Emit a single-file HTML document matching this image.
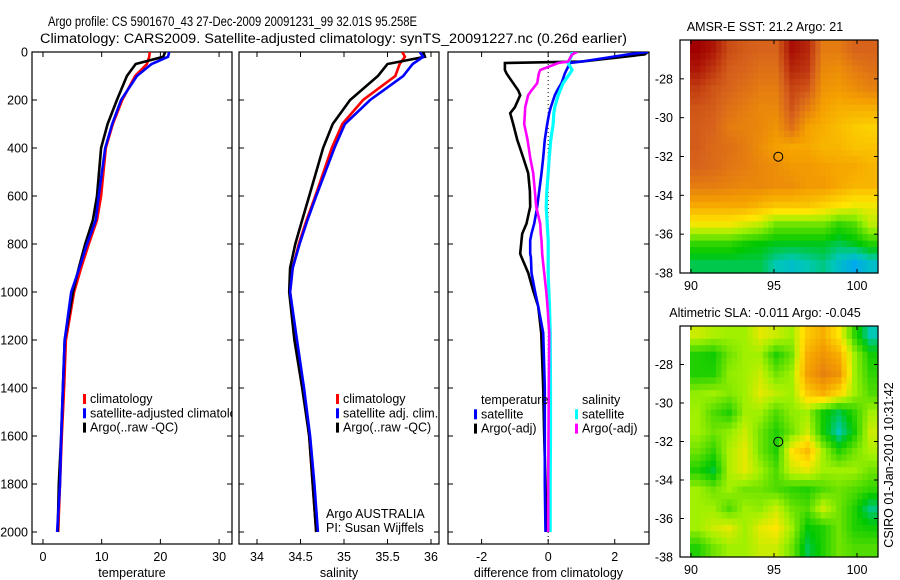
<!DOCTYPE html>
<html><head><meta charset="utf-8"><style>
html,body{margin:0;padding:0;background:#fff}
svg{display:block;font-family:"Liberation Sans",sans-serif}
text{font-size:12.5px;fill:#000}
</style></head><body>
<svg id="fig" width="900" height="580" viewBox="0 0 900 580" xmlns="http://www.w3.org/2000/svg">
<rect width="900" height="580" fill="#fff"/>
<text x="48" y="26" textLength="369" lengthAdjust="spacingAndGlyphs" style="font-size:13.5px">Argo profile: CS 5901670_43 27-Dec-2009 20091231_99 32.01S 95.258E</text>
<text x="40" y="43" textLength="587" lengthAdjust="spacingAndGlyphs" style="font-size:13.5px">Climatology: CARS2009. Satellite-adjusted climatology: synTS_20091227.nc (0.26d earlier)</text>
<g id="layer"></g>
</svg>
<script>
// ---------- data ----------
const depths = [0,20,50,100,200,300,400,600,700,800,900,1000,1200,1400,1600,1800,2000];
const tempClim = [18.2,18.1,17.7,15.7,13.5,11.9,10.7,9.9,9.2,7.8,6.5,5.3,3.9,3.6,3.2,2.9,2.6];
const tempSat  = [21.5,21.3,18.5,16.0,13.3,11.8,10.6,9.5,9.0,7.5,6.2,4.8,3.7,3.4,3.1,2.9,2.4];
const tempArgo = [20.8,20.5,15.8,14.3,12.6,11.0,9.9,9.2,8.5,7.2,6.1,5.1,3.7,3.4,3.1,2.7,2.5];
const salClim = [35.67,35.70,35.64,35.59,35.22,34.98,34.86,34.67,34.57,34.48,34.41,34.38,34.44,34.53,34.60,34.64,34.68];
const salSat  = [35.87,35.91,35.79,35.68,35.30,35.01,34.89,34.68,34.58,34.49,34.41,34.38,34.46,34.54,34.61,34.66,34.70];
const salArgo = [35.91,35.93,35.50,35.39,35.07,34.87,34.76,34.60,34.52,34.44,34.38,34.37,34.43,34.52,34.60,34.64,34.68];
const diffDepths = [0,10,40,46,75,90,130,160,180,230,255,300,365,440,505,580,645,715,757,785,840,855,920,995,1060,1170,1400,1600,1800,2000];
const dTempArgo = [3.0,2.9,1.0,-1.3,-1.3,-1.25,-1.05,-0.9,-0.84,-1.0,-1.14,-1.05,-0.93,-0.75,-0.6,-0.55,-0.54,-0.65,-0.78,-0.8,-0.84,-0.8,-0.6,-0.45,-0.3,-0.21,-0.15,-0.12,-0.08,-0.05];
const dTempSat = [3.0,2.4,1.0,0.66,0.55,0.5,0.4,0.27,0.2,0.08,0.03,-0.03,-0.1,-0.15,-0.2,-0.27,-0.33,-0.42,-0.5,-0.54,-0.54,-0.52,-0.5,-0.4,-0.3,-0.15,-0.1,-0.1,-0.1,-0.08];
const dSalArgo = [0.87,0.72,0.6,0.3,-0.24,-0.28,-0.33,-0.5,-0.6,-0.69,-0.7,-0.72,-0.62,-0.54,-0.45,-0.4,-0.36,-0.24,-0.22,-0.2,-0.18,-0.17,-0.12,-0.06,-0.02,0.03,0.02,0.01,0.0,0.0];
const dSalSat = [0.7,0.72,0.62,0.6,0.72,0.65,0.45,0.36,0.3,0.2,0.17,0.15,0.08,0.03,0.0,-0.04,-0.06,-0.03,-0.01,0.0,0.0,0.0,0.0,0.02,0.04,0.06,0.07,0.07,0.06,0.06];
const tempTicks = [0,10,20,30];
const salTicks = [34,34.5,35,35.5,36];
const diffTicks = [-2,0,2];
const depthTicks = [0,200,400,600,800,1000,1200,1400,1600,1800,2000];
const latTicks = [-28,-30,-32,-34,-36,-38];
const lonTicks = [90,95,100];
const sstGrid = [
[0.95,0.92,0.85,0.83,0.82,0.82,0.93,0.90,0.78,0.78,0.82,0.82],
[0.92,0.88,0.83,0.82,0.80,0.80,0.90,0.88,0.76,0.75,0.78,0.80],
[0.87,0.84,0.82,0.80,0.78,0.78,0.86,0.84,0.74,0.73,0.75,0.77],
[0.84,0.83,0.80,0.78,0.76,0.76,0.84,0.78,0.72,0.70,0.70,0.70],
[0.83,0.82,0.78,0.77,0.76,0.74,0.80,0.72,0.70,0.68,0.66,0.65],
[0.83,0.81,0.80,0.78,0.75,0.72,0.71,0.71,0.69,0.69,0.67,0.67],
[0.82,0.81,0.79,0.78,0.76,0.75,0.73,0.73,0.72,0.71,0.71,0.69],
[0.78,0.78,0.77,0.76,0.76,0.75,0.75,0.73,0.73,0.71,0.69,0.69],
[0.71,0.71,0.71,0.71,0.69,0.67,0.67,0.67,0.65,0.63,0.61,0.61],
[0.61,0.61,0.61,0.59,0.57,0.52,0.52,0.52,0.52,0.48,0.50,0.57],
[0.48,0.48,0.48,0.46,0.45,0.44,0.44,0.44,0.44,0.42,0.44,0.47],
[0.42,0.42,0.42,0.42,0.42,0.38,0.36,0.38,0.40,0.36,0.32,0.36]];
const slaGrid = [
[0.58,0.56,0.55,0.55,0.60,0.58,0.55,0.66,0.70,0.62,0.48,0.38],
[0.47,0.46,0.52,0.55,0.55,0.47,0.52,0.70,0.74,0.70,0.55,0.46],
[0.47,0.47,0.54,0.55,0.58,0.52,0.55,0.72,0.77,0.74,0.55,0.48],
[0.54,0.55,0.53,0.55,0.60,0.57,0.55,0.66,0.70,0.64,0.55,0.50],
[0.55,0.50,0.47,0.55,0.55,0.50,0.54,0.55,0.46,0.42,0.48,0.55],
[0.55,0.52,0.54,0.58,0.52,0.47,0.52,0.58,0.46,0.38,0.46,0.58],
[0.52,0.48,0.56,0.60,0.52,0.47,0.62,0.68,0.55,0.47,0.52,0.56],
[0.47,0.43,0.56,0.60,0.55,0.50,0.58,0.60,0.55,0.55,0.55,0.52],
[0.55,0.52,0.55,0.52,0.52,0.50,0.48,0.47,0.50,0.52,0.50,0.48],
[0.55,0.55,0.50,0.55,0.54,0.58,0.52,0.50,0.58,0.52,0.47,0.40],
[0.55,0.58,0.60,0.55,0.60,0.62,0.55,0.45,0.47,0.52,0.47,0.46],
[0.47,0.52,0.55,0.55,0.58,0.58,0.52,0.42,0.47,0.52,0.50,0.50]];
const profileLon = 95.258;
const profileLat = -32.01;

// ---------- helpers ----------
const NS = "http://www.w3.org/2000/svg";
const layer = document.getElementById('layer');
function mk(tag, attrs, parent){ const e=document.createElementNS(NS,tag); for(const k in attrs) e.setAttribute(k,attrs[k]); (parent||layer).appendChild(e); return e; }
function txt(x,y,s,anchor,parent){ const t=mk('text',{x:x,y:y,'text-anchor':anchor||'start'},parent); t.textContent=s; return t; }
const yD = d => 52 + 0.24*d;
const TOP=52, BOT=544;

function panel(name, x0, x1, dom, ticks, fmt, label, showY){
  const sx = v => x0 + (v-dom[0])/(dom[1]-dom[0])*(x1-x0);
  const g = mk('g',{});
  
  
  const fr = mk('rect',{x:x0,y:TOP,width:x1-x0,height:BOT-TOP,fill:'none',stroke:'#000','stroke-width':1.2},g);
  
  
  ticks.forEach(t=>{ const x=sx(t);
    mk('line',{x1:x,y1:BOT,x2:x,y2:BOT-5,stroke:'#000'},g);
    mk('line',{x1:x,y1:TOP,x2:x,y2:TOP+5,stroke:'#000'},g);
    const l=txt(x,561,fmt(t),'middle',g);
    
    
  });
  depthTicks.forEach(d=>{ const y=yD(d);
    mk('line',{x1:x0,y1:y,x2:x0+5,y2:y,stroke:'#000'},g);
    mk('line',{x1:x1,y1:y,x2:x1-5,y2:y,stroke:'#000'},g);
    if(showY){ const l=txt(x0-4,y+4.5,String(d),'end',g);
      
       }
  });
  const xl = txt((x0+x1)/2,577,label,'middle',g);
  
  
  const cid='clip-'+name;
  const cp=mk('clipPath',{id:cid},g); mk('rect',{x:x0,y:TOP,width:x1-x0,height:BOT-TOP},cp);
  const inner = mk('g',{'clip-path':'url(#'+cid+')'},g);
  return {sx, g, inner};
}
function series(p, ds, vals, color, name, w){
  const pts = vals.map((v,i)=>p.sx(v).toFixed(1)+','+yD(ds[i]).toFixed(1)).join(' ');
  const l = mk('polyline',{points:pts,fill:'none',stroke:color,'stroke-width':w||2.6,'stroke-linejoin':'miter'},p.inner);
  
  
}
function legend(items, mx, y0, parent){
  items.forEach((it,i)=>{ const y=y0+i*14.3;
    if(it[1]){ const r=mk('rect',{x:mx,y:y-9,width:3,height:10,fill:it[1]},parent);
      
       }
    const t=txt(mx+7,y,it[0],'start',parent);
    
    
  });
}

// ---------- panel 1: temperature ----------
const p1 = panel('temperature-panel', 32, 232, [-1.87, 32.2], tempTicks, String, 'temperature', true);
series(p1, depths, tempClim, '#ff0000', 'temp-climatology-line');
series(p1, depths, tempArgo, '#000000', 'temp-argo-line');
series(p1, depths, tempSat, '#0000ff', 'temp-satellite-line');
legend([['climatology','#ff0000'],['satellite-adjusted climatology','#0000ff'],['Argo(..raw -QC)','#000']], 83, 403, p1.inner);

// ---------- panel 2: salinity ----------
const p2 = panel('salinity-panel', 239, 439, [33.793, 36.092], salTicks, String, 'salinity', false);
series(p2, depths, salClim, '#ff0000', 'sal-climatology-line');
series(p2, depths, salArgo, '#000000', 'sal-argo-line');
series(p2, depths, salSat, '#0000ff', 'sal-satellite-line');
legend([['climatology','#ff0000'],['satellite adj. clim.','#0000ff'],['Argo(..raw -QC)','#000']], 336, 403, p2.inner);
const a1=txt(326,518,'Argo AUSTRALIA');  
const a2=txt(326,532,'PI: Susan Wijffels');  

// ---------- panel 3: differences ----------
const p3 = panel('difference-panel', 448, 649, [-3.01, 3.03], diffTicks, String, 'difference from climatology', false);
const z = mk('line',{x1:p3.sx(0),y1:TOP,x2:p3.sx(0),y2:BOT,stroke:'#000','stroke-dasharray':'1,3'},p3.inner);


series(p3, diffDepths, dTempArgo, '#000000', 'diff-temp-argo-line');
series(p3, diffDepths, dTempSat, '#0000ff', 'diff-temp-satellite-line');
series(p3, diffDepths, dSalSat, '#00ffff', 'diff-sal-satellite-line', 3.2);
series(p3, diffDepths, dSalArgo, '#ff00ff', 'diff-sal-argo-line');
legend([['temperature',null],['satellite','#0000ff'],['Argo(-adj)','#000']], 474, 404, p3.inner);
legend([['salinity',null],['satellite','#00ffff'],['Argo(-adj)','#ff00ff']], 575, 404, p3.inner);

// ---------- maps ----------
const stops=[[0.30,[0,160,255]],[0.38,[0,200,180]],[0.45,[0,200,0]],[0.55,[160,240,0]],[0.62,[255,230,0]],[0.72,[245,160,0]],[0.82,[216,100,28]],[0.95,[160,0,0]]];
function cmap(v){
  if(v<=stops[0][0]) return 'rgb('+stops[0][1]+')';
  for(let i=1;i<stops.length;i++){ if(v<=stops[i][0]){ const a=stops[i-1],b=stops[i],f=(v-a[0])/(b[0]-a[0]);
    return 'rgb('+a[1].map((c,k)=>Math.round(c+(b[1][k]-c)*f)).join(',')+')'; } }
  return 'rgb('+stops[stops.length-1][1]+')';
}
// bilinear sample of grid at fractional cell coords
function sample(grid, fr, fc){
  const rows=grid.length, cols=grid[0].length;
  fr=Math.max(0,Math.min(rows-1,fr)); fc=Math.max(0,Math.min(cols-1,fc));
  const r0=Math.floor(fr), c0=Math.floor(fc), r1=Math.min(rows-1,r0+1), c1=Math.min(cols-1,c0+1);
  const a=fr-r0, b=fc-c0;
  return grid[r0][c0]*(1-a)*(1-b)+grid[r0][c1]*(1-a)*b+grid[r1][c0]*a*(1-b)+grid[r1][c1]*a*b;
}
function map(name, top, bot, grid, title){
  const L=680, R=878, dx0=690;
  const lx = lon => 691 + (lon-90)*16.6;
  const ly = lat => top + ((-26)-lat)/12*(bot-top);
  const g=mk('g',{});
  
  
  const rows=grid.length, cols=grid[0].length, S=3;
  const nr=rows*S, nc=cols*S, cw=(R-dx0)/nc, rh=(bot-top)/nr;
  for(let r=0;r<nr;r++) for(let c=0;c<nc;c++){
    const v=sample(grid,(r+0.5)/S-0.5,(c+0.5)/S-0.5);
    const cell=mk('rect',{x:(dx0+c*cw).toFixed(2),y:(top+r*rh).toFixed(2),width:(cw+0.6).toFixed(2),height:(rh+0.6).toFixed(2),fill:cmap(v)},g);
    
    
  }
  const fr=mk('rect',{x:L,y:top,width:R-L,height:bot-top,fill:'none',stroke:'#000','stroke-width':1.2},g);
  
  
  latTicks.forEach(t=>{ const y=ly(t);
    mk('line',{x1:L,y1:y,x2:L+4,y2:y,stroke:'#000'},g);
    mk('line',{x1:R,y1:y,x2:R-4,y2:y,stroke:'#000'},g);
    const l=txt(673,y+4.5,String(t),'end',g);
    
    
  });
  lonTicks.forEach(t=>{ const x=lx(t);
    mk('line',{x1:x,y1:bot,x2:x,y2:bot-4,stroke:'#000'},g);
    mk('line',{x1:x,y1:top,x2:x,y2:top+4,stroke:'#000'},g);
    const l=txt(x,bot+17,String(t),'middle',g);
    
    
  });
  const c=mk('circle',{cx:lx(profileLon),cy:ly(profileLat),r:4.5,fill:'none',stroke:'#000','stroke-width':1},g);
  
  
  const t=txt(765,top-9,title,'middle',g);
  
  
}
map('sst-map', 40, 273, sstGrid, 'AMSR-E SST: 21.2 Argo: 21');
map('sla-map', 326, 557, slaGrid, 'Altimetric SLA: -0.011 Argo: -0.045');
const cs=txt(0,0,'CSIRO 01-Jan-2010 10:31:42','middle');
cs.setAttribute('transform','translate(893,465) rotate(-90)');


</script>
</body></html>
